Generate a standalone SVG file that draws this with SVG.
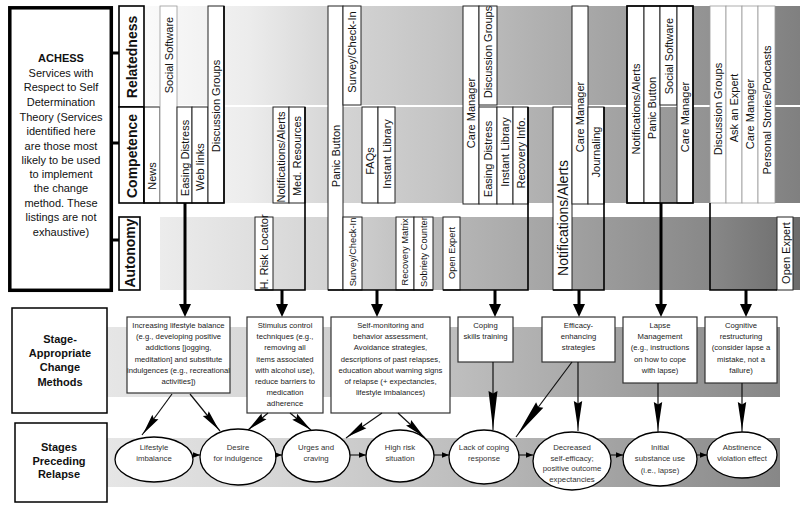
<svg xmlns="http://www.w3.org/2000/svg" xmlns:xlink="http://www.w3.org/1999/xlink" width="800" height="508" viewBox="0 0 800 508">
<defs>
<style>
text{font-family:"Liberation Sans",Arial,sans-serif;fill:#111}
.v{font-size:11px;text-anchor:middle;dominant-baseline:central}
.vs{font-size:9.3px}
.vl{font-size:14px}
.vb{font-size:14px;font-weight:bold;text-anchor:middle;dominant-baseline:central}
.cell{fill:#fff;stroke:#222;stroke-width:1}
.cellL{fill:#fff;stroke:#9a9a9a;stroke-width:0.8}
.outline{fill:none;stroke:#000;stroke-width:1.6}
.lbl{fill:#fff;stroke:#000;stroke-width:1.6}
.big{fill:#fff;stroke:#000;stroke-width:3.5}
.stagebox{fill:#fff;stroke:#000;stroke-width:1.5}
.method{fill:#fff;stroke:#333;stroke-width:1.2}
.mt{font-size:7.7px;text-anchor:middle;fill:#222}
.et{font-size:7.8px;text-anchor:middle;fill:#333}
.ell{fill:#fff;stroke:#000;stroke-width:1.3}
.thick{stroke:#000;stroke-width:3;fill:none}
.tick{stroke:#000;stroke-width:3;fill:none}
.feather{stroke:#111;stroke-width:1.2;fill:none}
.small{stroke:#000;stroke-width:1;fill:none}
.lt{font-size:11px;text-anchor:middle}
.bt{font-size:11px;font-weight:bold;text-anchor:middle}
.wedge{fill:#000;stroke:none}
</style>
<linearGradient id="gTop" gradientUnits="userSpaceOnUse" x1="145" y1="0" x2="800" y2="0">
<stop offset="0" stop-color="#fafafa"/>
<stop offset="0.16" stop-color="#ececec"/>
<stop offset="0.282" stop-color="#d6d6d6"/>
<stop offset="0.45" stop-color="#c4c4c4"/>
<stop offset="0.588" stop-color="#b2b2b2"/>
<stop offset="0.725" stop-color="#a2a2a2"/>
<stop offset="0.863" stop-color="#929292"/>
<stop offset="1" stop-color="#808080"/>
</linearGradient>
<linearGradient id="gAut" gradientUnits="userSpaceOnUse" x1="160" y1="0" x2="800" y2="0">
<stop offset="0" stop-color="#ececec"/>
<stop offset="0.156" stop-color="#dedede"/>
<stop offset="0.281" stop-color="#d2d2d2"/>
<stop offset="0.4375" stop-color="#b8b8b8"/>
<stop offset="0.578" stop-color="#a8a8a8"/>
<stop offset="0.719" stop-color="#989898"/>
<stop offset="0.859" stop-color="#888888"/>
<stop offset="1" stop-color="#6c6c6c"/>
</linearGradient>
<linearGradient id="gLow" gradientUnits="userSpaceOnUse" x1="107" y1="0" x2="780" y2="0">
<stop offset="0" stop-color="#e6e6e6"/>
<stop offset="0.287" stop-color="#d3d3d3"/>
<stop offset="0.51" stop-color="#bfbfbf"/>
<stop offset="0.733" stop-color="#a5a5a5"/>
<stop offset="1" stop-color="#878787"/>
</linearGradient>
<marker id="ahBig" markerUnits="userSpaceOnUse" markerWidth="13" markerHeight="12" viewBox="0 0 13 12" refX="0" refY="6" orient="auto"><path class="wedge" d="M0,0 L13,6 L0,12 z"/></marker>
<marker id="ahS" markerUnits="userSpaceOnUse" markerWidth="7" markerHeight="5.5" viewBox="0 0 7 5.5" refX="7" refY="2.75" orient="auto"><path class="wedge" d="M0,0 L7,2.75 L0,5.5 z"/></marker>
<path id="wA" class="wedge" d="M-21,-3.8 L0,0 L-21,3.8 L-18.5,0 z"/>
<path id="wB" class="wedge" d="M-28,-4.2 L0,0 L-28,4.2 L-25.5,0 z"/>
<path id="wC" class="wedge" d="M-38,-4.5 L0,0 L-38,4.5 L-35.5,0 z"/>
</defs>

<rect x="0" y="0" width="800" height="508" fill="#fff"/>

<g id="backgrounds">
<rect x="145" y="6" width="655" height="99" fill="url(#gTop)"/>
<rect x="145" y="107" width="655" height="96" fill="url(#gTop)"/>
<rect x="160" y="217" width="640" height="73" fill="url(#gAut)"/>
<rect x="107" y="327" width="673" height="70" fill="url(#gLow)"/>
<rect x="107" y="438" width="673" height="49" fill="url(#gLow)"/>
</g>

<g id="achess-box">
<rect class="big" x="9.8" y="7.8" width="101.5" height="282.5"/>
<text class="lt" x="61" y="62" font-weight="bold">ACHESS</text>
<text class="lt" x="61" y="77">Services with</text>
<text class="lt" x="61" y="91">Respect to Self</text>
<text class="lt" x="61" y="106">Determination</text>
<text class="lt" x="61" y="121">Theory (Services</text>
<text class="lt" x="61" y="135">identified here</text>
<text class="lt" x="61" y="150">are those most</text>
<text class="lt" x="61" y="164">likely to be used</text>
<text class="lt" x="61" y="178">to implement</text>
<text class="lt" x="61" y="192">the change</text>
<text class="lt" x="61" y="207">method. These</text>
<text class="lt" x="61" y="221">listings are not</text>
<text class="lt" x="61" y="236">exhaustive)</text>
</g>

<g id="relatedness">
<rect class="lbl" x="119" y="6" width="25" height="101"/>
<text class="vb" transform="translate(132,57) rotate(-90)">Relatedness</text>
</g>
<g id="competence">
<rect class="lbl" x="119" y="107" width="25" height="96"/>
<text class="vb" transform="translate(132,156) rotate(-90)">Competence</text>
</g>
<g id="autonomy">
<rect class="lbl" x="119" y="217" width="21" height="73"/>
<text class="vb" transform="translate(130,253) rotate(-90)">Autonomy</text>
</g>

<g id="services-group-1">
<rect class="cell" x="144" y="107" width="16" height="96"/>
<rect class="cellL" x="160" y="6" width="17" height="197"/>
<rect class="cell" x="177" y="107" width="15" height="96"/>
<rect class="cell" x="192" y="107" width="16" height="96"/>
<rect class="cell" x="208" y="6" width="16" height="197"/>
<path class="outline" d="M144,107 V203 H224 V6"/>
<text class="v" transform="translate(168.5,55) rotate(-90)">Social Software</text>
<text class="v" transform="translate(152,176) rotate(-90)">News</text>
<text class="v" transform="translate(184.5,158) rotate(-90)">Easing Distress</text>
<text class="v" transform="translate(200,167) rotate(-90)">Web links</text>
<text class="v" transform="translate(216,106) rotate(-90)">Discussion Groups</text>
</g>

<g id="services-group-2">
<rect class="cell" x="255" y="217" width="18" height="73"/>
<rect class="cell" x="273" y="107" width="16" height="96"/>
<rect class="cell" x="289" y="107" width="16" height="96"/>
<path class="outline" d="M255,290 H305 V107"/>
<text class="v" transform="translate(264,252) rotate(-90)" font-size="10">H. Risk Locator</text>
<text class="v" transform="translate(281,157) rotate(-90)" font-size="10.2">Notifications/Alerts</text>
<text class="v" transform="translate(297,156) rotate(-90)">Med. Resources</text>
</g>

<g id="services-group-3">
<rect class="cell" x="328" y="6" width="15" height="284"/>
<rect class="cell" x="343" y="6" width="18" height="99"/>
<rect class="cell" x="362" y="107" width="16" height="96"/>
<rect class="cell" x="378" y="107" width="17" height="96"/>
<rect class="cell" x="343" y="217" width="19" height="73"/>
<rect class="cell" x="396" y="217" width="18" height="73"/>
<rect class="cell" x="414" y="217" width="19" height="73"/>
<path class="outline" d="M328,290 H433"/>
<text class="v" transform="translate(335.5,156) rotate(-90)">Panic Button</text>
<text class="v" transform="translate(352,52) rotate(-90)" font-size="10.6">Survey/Check-In</text>
<text class="v" transform="translate(370,161) rotate(-90)" font-size="10">FAQs</text>
<text class="v" transform="translate(386.5,154) rotate(-90)" font-size="11.5">Instant Library</text>
<text class="v vs" transform="translate(352.5,252) rotate(-90)">Survey/Check-In</text>
<text class="v vs" transform="translate(405,252) rotate(-90)">Recovery Matrix</text>
<text class="v vs" transform="translate(423.5,252) rotate(-90)">Sobriety Counter</text>
</g>

<g id="services-group-4">
<rect class="cell" x="443" y="217" width="17" height="73"/>
<rect class="cell" x="463" y="6" width="16" height="198"/>
<rect class="cell" x="479" y="6" width="18" height="99"/>
<rect class="cell" x="479" y="107" width="18" height="97"/>
<rect class="cell" x="497" y="107" width="16" height="97"/>
<rect class="cell" x="513" y="107" width="15" height="97"/>
<path class="outline" d="M443,290 H528 V107"/>
<text class="v vs" transform="translate(451.5,253) rotate(-90)">Open Expert</text>
<text class="v" transform="translate(471,113) rotate(-90)" font-size="11.4">Care Manager</text>
<text class="v" transform="translate(488,52) rotate(-90)" font-size="10.2">Discussion Groups</text>
<text class="v" transform="translate(488,159) rotate(-90)" font-size="11.6">Easing Distress</text>
<text class="v" transform="translate(505,152) rotate(-90)" font-size="11.6">Instant Library</text>
<text class="v" transform="translate(520.5,153) rotate(-90)" font-size="11.2">Recovery Info.</text>
</g>

<g id="services-group-5">
<rect class="cell" x="553" y="107" width="19" height="183"/>
<rect class="cell" x="572" y="6" width="16" height="198"/>
<rect class="cell" x="588" y="107" width="16" height="97"/>
<path class="outline" d="M553,290 H604 V107"/>
<text class="v vl" transform="translate(562.5,218) rotate(-90)">Notifications/Alerts</text>
<text class="v" transform="translate(580,117) rotate(-90)" font-size="12.3">Care Manager</text>
<text class="v" transform="translate(596,152) rotate(-90)" font-size="12">Journaling</text>
</g>

<g id="services-group-6">
<rect class="cell" x="627" y="6" width="17" height="197"/>
<rect class="cell" x="644" y="6" width="16" height="197"/>
<rect class="cell" x="660" y="6" width="17" height="99"/>
<rect class="cell" x="677" y="6" width="16" height="197"/>
<rect class="outline" x="627" y="6" width="66" height="197"/>
<text class="v" transform="translate(635.5,109) rotate(-90)" font-size="11.5">Notifications/Alerts</text>
<text class="v" transform="translate(652,108) rotate(-90)">Panic Button</text>
<text class="v" transform="translate(668.5,56) rotate(-90)">Social Software</text>
<text class="v" transform="translate(685,117) rotate(-90)">Care Manager</text>
</g>

<g id="services-group-7">
<rect class="cellL" x="710" y="6" width="16" height="197"/>
<rect class="cellL" x="726" y="6" width="16" height="197"/>
<rect class="cellL" x="742" y="6" width="16" height="197"/>
<rect class="cellL" x="758" y="6" width="17" height="197"/>
<rect class="cell" x="777" y="217" width="16" height="73"/>
<path class="outline" d="M710,203 V290 H777"/>
<text class="v" transform="translate(718,109) rotate(-90)">Discussion Groups</text>
<text class="v" transform="translate(734,108) rotate(-90)" font-size="10.5">Ask an Expert</text>
<text class="v" transform="translate(750,114) rotate(-90)" font-size="11.5">Care Manager</text>
<text class="v" transform="translate(766.5,110) rotate(-90)" font-size="10.4">Personal Stories/Podcasts</text>
<text class="v" transform="translate(785.5,253) rotate(-90)" font-size="8.5">Open Expert</text>
</g>

<g id="label-methods">
<rect class="stagebox" x="12" y="308" width="95" height="105"/>
<text class="bt" x="60" y="343">Stage-</text>
<text class="bt" x="60" y="357">Appropriate</text>
<text class="bt" x="60" y="371">Change</text>
<text class="bt" x="60" y="386">Methods</text>
</g>
<g id="label-stages">
<rect class="stagebox" x="15" y="423" width="92" height="79"/>
<text class="bt" x="59" y="451">Stages</text>
<text class="bt" x="59" y="464.5">Preceding</text>
<text class="bt" x="59" y="478">Relapse</text>
</g>

<g id="method-lifestyle">
<rect class="method" x="127" y="317" width="103" height="76"/>
<text class="mt" x="178.5" y="328">Increasing lifestyle balance</text>
<text class="mt" x="178.5" y="339.2">(e.g., developing positive</text>
<text class="mt" x="178.5" y="350.4">addictions [jogging,</text>
<text class="mt" x="178.5" y="361.6">meditation] and substitute</text>
<text class="mt" x="178.5" y="372.8" font-size="7.3">indulgences (e.g., recreational</text>
<text class="mt" x="178.5" y="384">activities])</text>
</g>
<g id="method-stimulus">
<rect class="method" x="247" y="317" width="76" height="96"/>
<text class="mt" x="285" y="328">Stimulus control</text>
<text class="mt" x="285" y="339.2">techniques (e.g.,</text>
<text class="mt" x="285" y="350.4">removing all</text>
<text class="mt" x="285" y="361.6">items associated</text>
<text class="mt" x="285" y="372.8">with alcohol use),</text>
<text class="mt" x="285" y="384">reduce barriers to</text>
<text class="mt" x="285" y="395.2">medication</text>
<text class="mt" x="285" y="406.4">adherence</text>
</g>
<g id="method-selfmonitoring">
<rect class="method" x="331" y="317" width="119" height="96"/>
<text class="mt" x="390.5" y="328">Self-monitoring and</text>
<text class="mt" x="390.5" y="339.2">behavior assessment,</text>
<text class="mt" x="390.5" y="350.4">Avoidance strategies,</text>
<text class="mt" x="390.5" y="361.6">descriptions of past relapses,</text>
<text class="mt" x="390.5" y="372.8">education about warning signs</text>
<text class="mt" x="390.5" y="384">of relapse (+ expectancies,</text>
<text class="mt" x="390.5" y="395.2">lifestyle imbalances)</text>
</g>
<g id="method-coping">
<rect class="method" x="458" y="317" width="55" height="45"/>
<text class="mt" x="485.5" y="328">Coping</text>
<text class="mt" x="485.5" y="339.2">skills training</text>
</g>
<g id="method-efficacy">
<rect class="method" x="542" y="317" width="73" height="45"/>
<text class="mt" x="578.5" y="328">Efficacy-</text>
<text class="mt" x="578.5" y="339.2">enhancing</text>
<text class="mt" x="578.5" y="350.4">strategies</text>
</g>
<g id="method-lapse">
<rect class="method" x="623" y="317" width="74" height="66"/>
<text class="mt" x="660" y="328">Lapse</text>
<text class="mt" x="660" y="339.2">Management</text>
<text class="mt" x="660" y="350.4">(e.g., instructions</text>
<text class="mt" x="660" y="361.6">on how to cope</text>
<text class="mt" x="660" y="372.8">with lapse)</text>
</g>
<g id="method-cognitive">
<rect class="method" x="705" y="317" width="72" height="66"/>
<text class="mt" x="741" y="328">Cognitive</text>
<text class="mt" x="741" y="339.2">restructuring</text>
<text class="mt" x="741" y="350.4">(consider lapse a</text>
<text class="mt" x="741" y="361.6">mistake, not a</text>
<text class="mt" x="741" y="372.8">failure)</text>
</g>

<g id="stage-lifestyle-imbalance">
<ellipse class="ell" cx="154" cy="459.5" rx="39" ry="22.5"/>
<text class="et" x="154" y="450">Lifestyle</text>
<text class="et" x="154" y="461">imbalance</text>
</g>
<g id="stage-desire">
<ellipse class="ell" cx="238" cy="457" rx="38" ry="28"/>
<text class="et" x="238" y="450">Desire</text>
<text class="et" x="238" y="461">for indulgence</text>
</g>
<g id="stage-urges">
<ellipse class="ell" cx="316" cy="456" rx="34" ry="26"/>
<text class="et" x="316" y="450">Urges and</text>
<text class="et" x="316" y="461">craving</text>
</g>
<g id="stage-high-risk">
<ellipse class="ell" cx="400" cy="456" rx="34" ry="26"/>
<text class="et" x="400" y="450">High risk</text>
<text class="et" x="400" y="461">situation</text>
</g>
<g id="stage-lack-coping">
<ellipse class="ell" cx="484" cy="457" rx="35" ry="27"/>
<text class="et" x="484" y="450">Lack of coping</text>
<text class="et" x="484" y="461">response</text>
</g>
<g id="stage-decreased-efficacy">
<ellipse class="ell" cx="572" cy="461" rx="39" ry="29"/>
<text class="et" x="572" y="450">Decreased</text>
<text class="et" x="572" y="461">self-efficacy;</text>
<text class="et" x="572" y="471">positive outcome</text>
<text class="et" x="572" y="482">expectancies</text>
</g>
<g id="stage-initial-use">
<ellipse class="ell" cx="660" cy="459" rx="37" ry="27"/>
<text class="et" x="660" y="450">Initial</text>
<text class="et" x="660" y="461">substance use</text>
<text class="et" x="660" y="473">(i.e., lapse)</text>
</g>
<g id="stage-abstinence">
<ellipse class="ell" cx="742" cy="455" rx="35" ry="23"/>
<text class="et" x="742" y="450">Abstinence</text>
<text class="et" x="742" y="461">violation effect</text>
</g>

<g id="connectors">
<path class="tick" d="M113,53 H119 M113,143 H119 M113,240 H119"/>
<path class="thick" d="M185,203 V304" marker-end="url(#ahBig)"/>
<path class="thick" d="M282,290 V304" marker-end="url(#ahBig)"/>
<path class="thick" d="M377,290 V304" marker-end="url(#ahBig)"/>
<path class="thick" d="M495,290 V304" marker-end="url(#ahBig)"/>
<path class="thick" d="M579,290 V304" marker-end="url(#ahBig)"/>
<path class="thick" d="M661,203 V304" marker-end="url(#ahBig)"/>
<path class="thick" d="M746,290 V304" marker-end="url(#ahBig)"/>

<path class="feather" d="M172,394 L142,435"/>
<use xlink:href="#wA" href="#wA" transform="translate(143,434) rotate(126.2)"/>
<path class="feather" d="M190,394 L220,431"/>
<use xlink:href="#wA" href="#wA" transform="translate(219,430) rotate(51)"/>
<path class="feather" d="M268,413 L248,430"/>
<use xlink:href="#wA" href="#wA" transform="translate(248,430) rotate(139.6)"/>
<path class="feather" d="M290,413 L311,430"/>
<use xlink:href="#wA" href="#wA" transform="translate(311,430) rotate(39)"/>
<path class="feather" d="M382,413 L346,438"/>
<use xlink:href="#wA" href="#wA" transform="translate(347,437) rotate(145.2)"/>
<path class="feather" d="M398,413 L425,438"/>
<use xlink:href="#wA" href="#wA" transform="translate(424,437) rotate(42.8)"/>
<path class="feather" d="M493,362 L493,430"/>
<use xlink:href="#wC" href="#wC" transform="translate(493,429) rotate(90)"/>
<path class="feather" d="M572,362 L516,437"/>
<use xlink:href="#wC" href="#wC" transform="translate(517,435.5) rotate(126.7)"/>
<path class="feather" d="M578,362 L578,431"/>
<use xlink:href="#wB" href="#wB" transform="translate(578,429) rotate(90)"/>
<path class="feather" d="M658,383 L658,432"/>
<use xlink:href="#wB" href="#wB" transform="translate(658,430) rotate(90)"/>
<path class="feather" d="M742,383 L742,432"/>
<use xlink:href="#wB" href="#wB" transform="translate(742,430) rotate(90)"/>

<path class="small" d="M193,455 H200" marker-end="url(#ahS)"/>
<path class="small" d="M276,455 H282" marker-end="url(#ahS)"/>
<path class="small" d="M350,455 H366" marker-end="url(#ahS)"/>
<path class="small" d="M434,455 H449" marker-end="url(#ahS)"/>
<path class="small" d="M519,455 H533" marker-end="url(#ahS)"/>
<path class="small" d="M611,455 H623" marker-end="url(#ahS)"/>
<path class="small" d="M697,455 H707" marker-end="url(#ahS)"/>
</g>
</svg>
